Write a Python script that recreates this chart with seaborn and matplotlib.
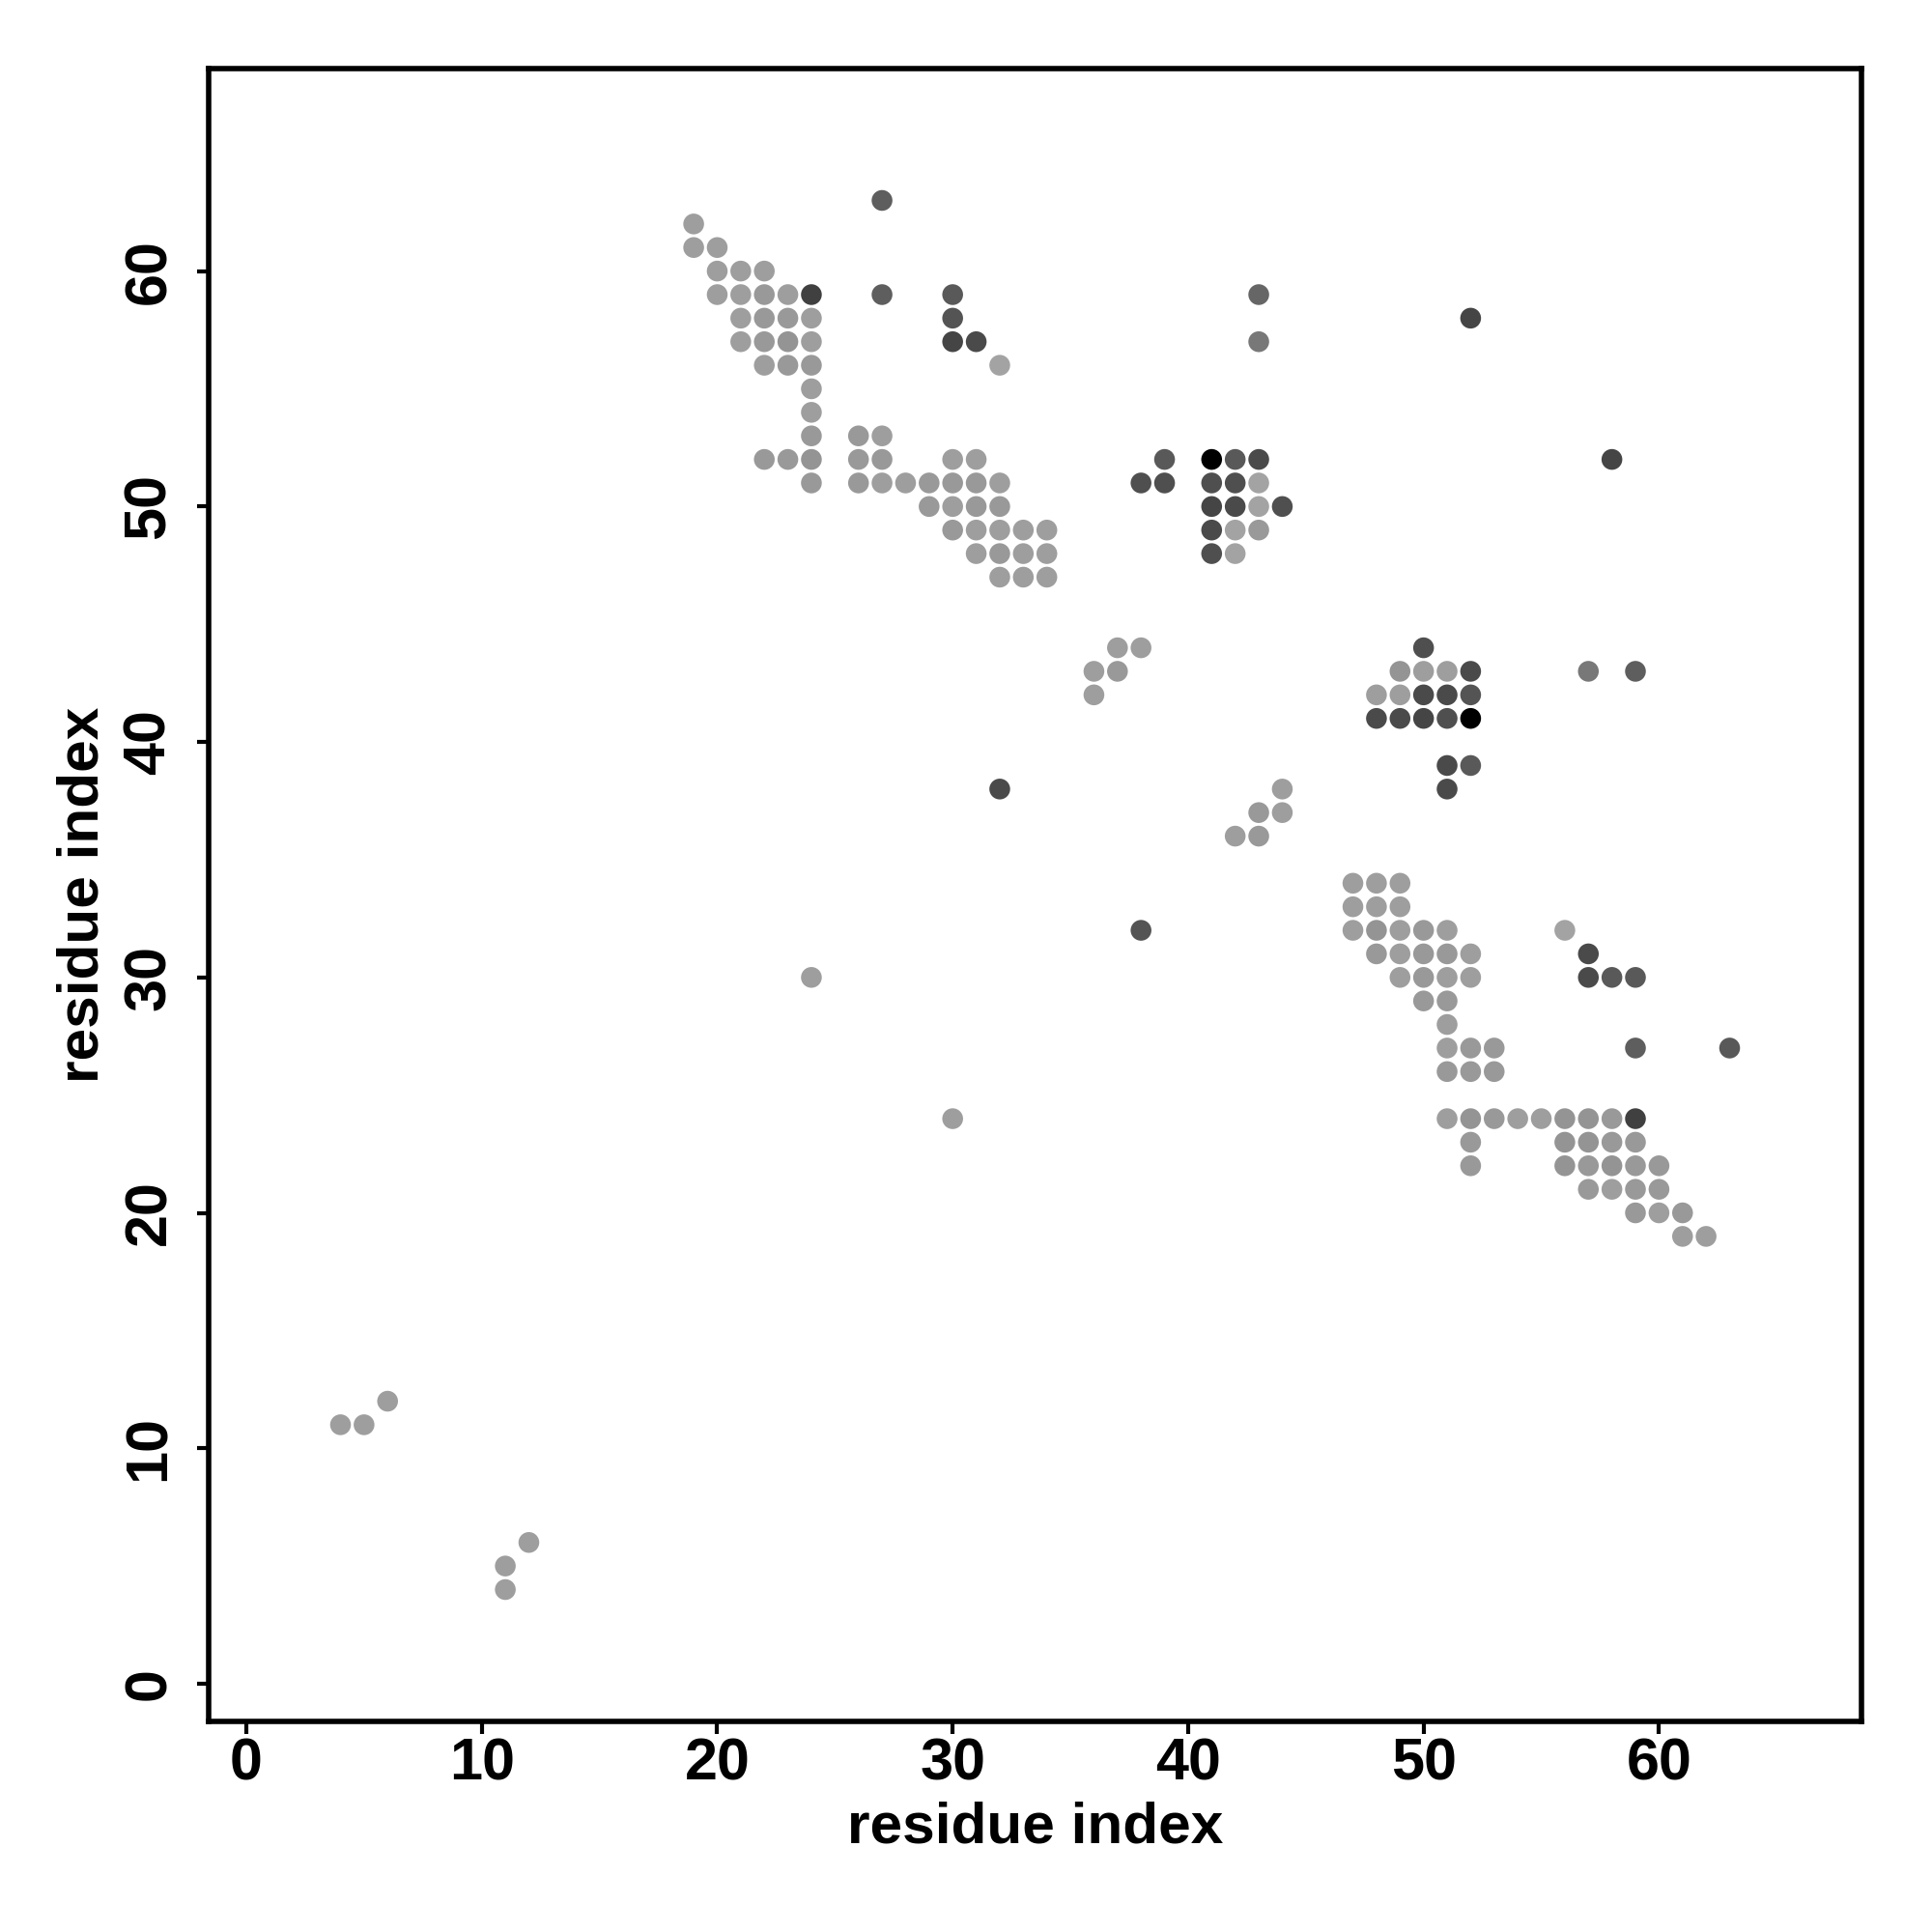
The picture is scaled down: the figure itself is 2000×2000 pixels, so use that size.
import numpy as np
import pandas as pd
import matplotlib
matplotlib.use("Agg")
import matplotlib.pyplot as plt
import seaborn as sns

# contact map points: residue i, residue j, gray level (0 = black, 1 = white)
res_i = [
    # upper-left block
    19, 19, 20, 20, 21, 22,
    20, 21, 22, 23, 24, 27, 30, 43,
    21, 22, 23, 24, 30, 52,
    21, 22, 23, 24, 30, 31, 43,
    22, 23, 24, 32,
    24, 24, 24, 26, 27,
    22, 23, 24, 26, 27, 30, 31, 39, 41, 42, 43, 58,
    24, 26, 27, 28, 29, 30, 31, 32, 38, 39, 41, 42, 43,
    29, 30, 31, 32, 41, 42, 43, 44,
    30, 31, 32, 33, 34, 41, 42, 43,
    31, 32, 33, 34, 41, 42,
    32, 33, 34,
    27,
    # middle
    37, 38, 50,
    36, 37, 49, 50, 51, 52, 57, 59,
    36, 48, 49, 50, 51, 52,
    48, 49, 50, 51, 52,
    51, 52,
    32, 44, 51,
    43, 44,
    42, 43,
    # lower-right block
    47, 48, 49,
    47, 48, 49,
    38, 47, 48, 49, 50, 51, 56,
    48, 49, 50, 51, 52, 57,
    24, 49, 50, 51, 52, 57, 58, 59,
    50, 51,
    51,
    51, 52, 53, 59, 63,
    51, 52, 53,
    30, 51, 52, 53, 54, 55, 56, 57, 58, 59,
    52, 56, 57, 58, 59,
    52, 56, 57, 58, 59, 60,
    57, 58, 59, 60,
    59, 60, 61,
    61, 62,
    # bottom-left
    4, 5, 6, 11, 11, 12,
]
res_j = [
    62, 61, 61, 60, 60, 60,
    59, 59, 59, 59, 59, 59, 59, 59,
    58, 58, 58, 58, 58, 58,
    57, 57, 57, 57, 57, 57, 57,
    56, 56, 56, 56,
    55, 54, 53, 53, 53,
    52, 52, 52, 52, 52, 52, 52, 52, 52, 52, 52, 52,
    51, 51, 51, 51, 51, 51, 51, 51, 51, 51, 51, 51, 51,
    50, 50, 50, 50, 50, 50, 50, 50,
    49, 49, 49, 49, 49, 49, 49, 49,
    48, 48, 48, 48, 48, 48,
    47, 47, 47,
    63,
    44, 44, 44,
    43, 43, 43, 43, 43, 43, 43, 43,
    42, 42, 42, 42, 42, 42,
    41, 41, 41, 41, 41,
    39, 39,
    38, 38, 38,
    37, 37,
    36, 36,
    34, 34, 34,
    33, 33, 33,
    32, 32, 32, 32, 32, 32, 32,
    31, 31, 31, 31, 31, 31,
    30, 30, 30, 30, 30, 30, 30, 30,
    29, 29,
    28,
    27, 27, 27, 27, 27,
    26, 26, 26,
    24, 24, 24, 24, 24, 24, 24, 24, 24, 24,
    23, 23, 23, 23, 23,
    22, 22, 22, 22, 22, 22,
    21, 21, 21, 21,
    20, 20, 20,
    19, 19,
    11, 11, 12, 5, 4, 6,
]
gray = [
    0.62, 0.62, 0.62, 0.62, 0.62, 0.62,
    0.62, 0.62, 0.60, 0.62, 0.25, 0.37, 0.35, 0.40,
    0.62, 0.60, 0.60, 0.62, 0.33, 0.27,
    0.62, 0.60, 0.58, 0.62, 0.27, 0.29, 0.47,
    0.62, 0.60, 0.60, 0.64,
    0.62, 0.62, 0.60, 0.60, 0.62,
    0.60, 0.60, 0.58, 0.60, 0.60, 0.62, 0.62, 0.35, 0.00, 0.35, 0.29, 0.27,
    0.60, 0.60, 0.62, 0.62, 0.60, 0.60, 0.60, 0.62, 0.31, 0.31, 0.31, 0.31, 0.64,
    0.60, 0.62, 0.60, 0.60, 0.27, 0.29, 0.64, 0.31,
    0.60, 0.62, 0.62, 0.62, 0.62, 0.29, 0.64, 0.60,
    0.62, 0.60, 0.62, 0.62, 0.31, 0.64,
    0.62, 0.62, 0.62,
    0.37,
    0.62, 0.62, 0.31,
    0.62, 0.60, 0.58, 0.62, 0.62, 0.29, 0.47, 0.37,
    0.62, 0.62, 0.62, 0.29, 0.29, 0.33,
    0.29, 0.29, 0.27, 0.31, 0.00,
    0.29, 0.35,
    0.29, 0.62, 0.29,
    0.60, 0.62,
    0.62, 0.60,
    0.62, 0.62, 0.62,
    0.62, 0.62, 0.62,
    0.33, 0.62, 0.58, 0.62, 0.60, 0.62, 0.64,
    0.60, 0.62, 0.60, 0.60, 0.62, 0.29,
    0.62, 0.62, 0.60, 0.62, 0.62, 0.29, 0.35, 0.35,
    0.60, 0.60,
    0.62,
    0.62, 0.60, 0.60, 0.37, 0.35,
    0.60, 0.60, 0.60,
    0.62, 0.62, 0.58, 0.60, 0.62, 0.62, 0.58, 0.58, 0.60, 0.25,
    0.60, 0.58, 0.58, 0.60, 0.60,
    0.60, 0.58, 0.60, 0.58, 0.60, 0.60,
    0.60, 0.62, 0.60, 0.60,
    0.60, 0.62, 0.60,
    0.62, 0.62,
    0.62, 0.62, 0.62, 0.62, 0.62, 0.62,
]

ticks = [0, 10, 20, 30, 40, 50, 60]
axis_label = "residue index"

df = pd.DataFrame({"i": res_i, "j": res_j, "g": gray})
df["col"] = df["g"].map(lambda v: str(v))
pal = {c: c for c in df["col"].unique()}

sns.set_style("white")
plt.rcParams["font.family"] = ["Liberation Sans", "DejaVu Sans"]
plt.rcParams["text.color"] = "black"
plt.rcParams["axes.labelcolor"] = "black"
plt.rcParams["xtick.color"] = "black"
plt.rcParams["ytick.color"] = "black"

fig = plt.figure(figsize=(20, 20), dpi=100)
ax = fig.add_axes([0.108, 0.109, 0.8555, 0.8555])

sns.scatterplot(data=df, x="i", y="j", hue="col", palette=pal, s=240,
                linewidth=0, legend=False, ax=ax)

ax.set_xlim(-1.6, 68.6)
ax.set_ylim(-1.6, 68.6)
ax.set_xticks(ticks)
ax.set_yticks(ticks)
ax.set_xticklabels([str(t) for t in ticks], fontsize=44, fontweight="bold")
ax.set_yticklabels([str(t) for t in ticks], fontsize=44, fontweight="bold",
                   rotation=90, va="center")
ax.tick_params(axis="both", direction="out", length=9, width=3, color="black",
               labelcolor="black", bottom=True, left=True)
ax.tick_params(axis="x", pad=3)
ax.tick_params(axis="y", pad=14)
ax.set_xlabel(axis_label, fontsize=43.5, fontweight="bold", labelpad=6,
              color="black")
ax.set_ylabel(axis_label, fontsize=43.5, fontweight="bold", labelpad=10,
              color="black")
for sp in ax.spines.values():
    sp.set_visible(True)
    sp.set_color("black")
    sp.set_linewidth(4)

fig.savefig("out.png", dpi=100, facecolor="white")
